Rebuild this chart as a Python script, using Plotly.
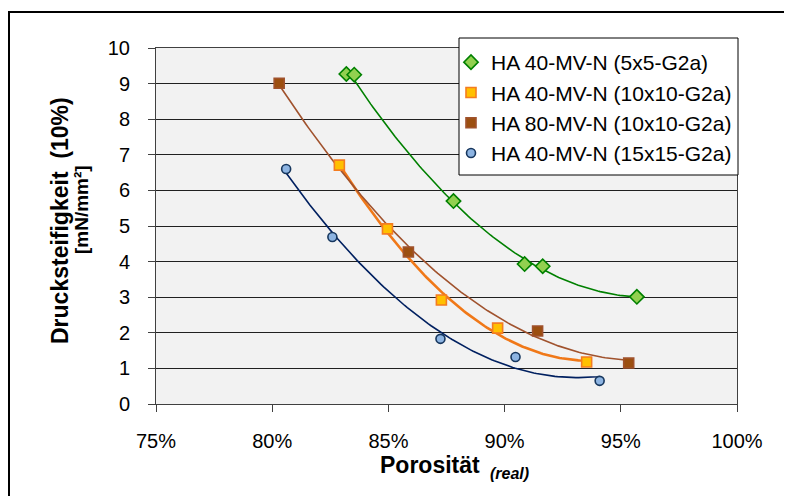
import numpy as np
import plotly.graph_objects as go

# ---- data ----
names = ["HA 40-MV-N (5x5-G2a)", "HA 40-MV-N (10x10-G2a)",
         "HA 80-MV-N (10x10-G2a)", "HA 40-MV-N (15x15-G2a)"]

por_5x5 = [0.8319, 0.8353, 0.8780, 0.9086, 0.9164, 0.9569]
dst_5x5 = [9.27, 9.25, 5.70, 3.93, 3.87, 3.01]

por_10x10 = [0.8289, 0.8496, 0.8728, 0.8970, 0.9353]
dst_10x10 = [6.71, 4.92, 2.92, 2.13, 1.18]

por_80_10x10 = [0.8030, 0.8586, 0.9142, 0.9534]
dst_80_10x10 = [9.01, 4.27, 2.05, 1.15]

por_15x15 = [0.8060, 0.8259, 0.8724, 0.9047, 0.9409]
dst_15x15 = [6.60, 4.69, 1.83, 1.32, 0.65]

x_ticks = [0.75, 0.80, 0.85, 0.90, 0.95, 1.00]
x_ticklabels = ["75%", "80%", "85%", "90%", "95%", "100%"]
y_ticks = list(range(0, 11))

# ---- styles ----
FONT = "Liberation Sans, Arial, sans-serif"
styles = [
    dict(symbol="diamond", size=11, fill="#92d050", edge="#008000", line="#008000", lw=1.6),
    dict(symbol="square", size=10, fill="#ffc000", edge="#f47c20", line="#f07818", lw=2.6),
    dict(symbol="square", size=10, fill="#9c4f10", edge="#a0522d", line="#a0522d", lw=1.6),
    dict(symbol="circle", size=9, fill="#8db4e2", edge="#17375e", line="#002060", lw=1.6),
]
series = [(por_5x5, dst_5x5), (por_10x10, dst_10x10),
          (por_80_10x10, dst_80_10x10), (por_15x15, dst_15x15)]

fig = go.Figure()

# polynomial (order 2) trendlines, fitted from the data like Excel does
for (xs, ys), st in zip(series, styles):
    c = np.polyfit(xs, ys, 2)
    xx = np.linspace(min(xs), max(xs), 120)
    fig.add_trace(go.Scatter(x=xx, y=np.polyval(c, xx), mode="lines",
                             line=dict(color=st["line"], width=st["lw"]),
                             showlegend=False, hoverinfo="skip"))

for i, ((xs, ys), st, nm) in enumerate(zip(series, styles, names)):
    fig.add_trace(go.Scatter(x=xs, y=ys, mode="markers", name=nm,
                             legendgroup=f"g{i}",
                             marker=dict(symbol=st["symbol"], size=st["size"],
                                         color=st["fill"],
                                         line=dict(color=st["edge"], width=1.6))))

# ---- layout geometry (target screen pixels; page has 8px body margin) ----
OFF = 8
L, R, T, B = 156, 737, 48, 404
W, H = R - L, B - T
def px(x):
    return (x - L) / W
def py(y):
    return (B - y) / H

fig.update_layout(
    width=792, height=496,
    margin=dict(l=L - OFF, r=792 - (R - OFF), t=T - OFF, b=496 - (B - OFF)),
    paper_bgcolor="white", plot_bgcolor="#f2f2f2",
    font=dict(family=FONT, size=20, color="black"),
    xaxis=dict(range=[0.75, 1.0], tickvals=x_ticks, ticktext=x_ticklabels,
               showgrid=False, zeroline=False, showline=True, linecolor="#404040",
               linewidth=1, ticks="outside", ticklen=7, tickcolor="#404040",
               mirror=True, ticklabelstandoff=12, tickfont=dict(size=20)),
    yaxis=dict(range=[0, 10], tickvals=y_ticks, showgrid=True, gridcolor="#202020",
               gridwidth=1, zeroline=False, showline=True, linecolor="#404040",
               linewidth=1, ticks="outside", ticklen=7, tickcolor="#404040",
               mirror=True, ticklabelstandoff=14, tickfont=dict(size=20)),
    legend=dict(x=px(451), y=py(42), xanchor="left", yanchor="top",
                bgcolor="rgba(0,0,0,0)", borderwidth=0,
                font=dict(size=21, family=FONT), tracegroupgap=13,
                traceorder="normal"),
    showlegend=True,
)

# legend box and outer chart frame
fig.add_shape(type="rect", xref="paper", yref="paper",
              x0=px(459), x1=px(738), y0=py(175), y1=py(38),
              fillcolor="white", line=dict(color="black", width=1), layer="above")
fig.add_shape(type="rect", xref="paper", yref="paper",
              x0=px(9), x1=px(830), y0=py(530), y1=py(12),
              fillcolor="rgba(0,0,0,0)", line=dict(color="black", width=2), layer="above")

# axis titles
fig.add_annotation(xref="paper", yref="paper", x=px(60), y=py(220),
                   text="<b>Drucksteifigkeit  (10%)</b>", textangle=-90,
                   showarrow=False, xanchor="center", yanchor="middle",
                   font=dict(size=23, family=FONT))
fig.add_annotation(xref="paper", yref="paper", x=px(81), y=py(210),
                   text="<b>[mN/mm²]</b>", textangle=-90,
                   showarrow=False, xanchor="center", yanchor="middle",
                   font=dict(size=19, family=FONT))
fig.add_annotation(xref="paper", yref="paper", x=px(430), y=py(465),
                   text="<b>Porosität</b>", showarrow=False,
                   xanchor="center", yanchor="middle",
                   font=dict(size=23, family=FONT))
fig.add_annotation(xref="paper", yref="paper", x=px(509), y=py(473),
                   text="<b><i>(real)</i></b>", showarrow=False,
                   xanchor="center", yanchor="middle",
                   font=dict(size=16, family=FONT))

fig.write_html("out.html")
